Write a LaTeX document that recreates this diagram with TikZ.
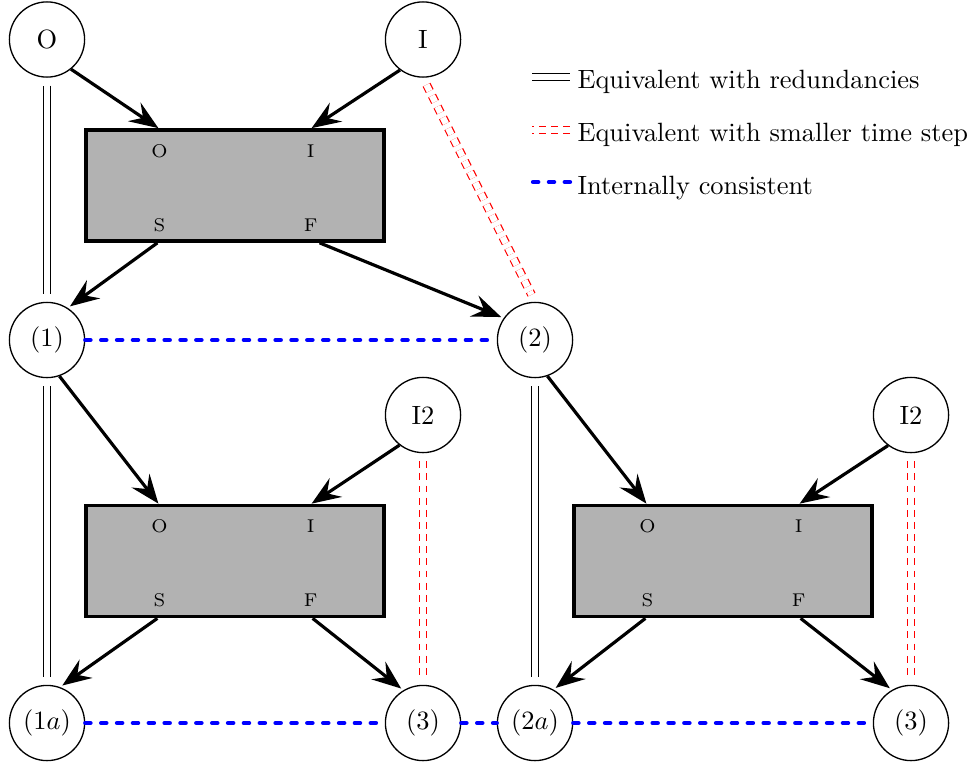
\documentclass[tikz,border=0pt]{standalone}
\usetikzlibrary{arrows.meta,calc}
\begin{document}
\begin{tikzpicture}[x=0.3784pt,y=-0.3784pt,
 circ/.style={circle,draw,line width=0.5pt,minimum size=1cm,inner sep=0pt},
 box/.style={rectangle,draw,line width=1.3pt,fill=black!30,minimum width=3.96cm,minimum height=1.48cm},
 port/.style={font=\scriptsize,inner sep=0pt},
 arr/.style={line width=1.2pt,-{Stealth[length=11pt,width=8.5pt,inset=4pt]}},
 tocirc/.style={shorten >=1pt},
 dbl/.style={double,double distance=2.5pt,line width=0.4pt},
 rdbl/.style={draw=red,double=white,double distance=2.4pt,line width=0.45pt,dash pattern=on 2.6pt off 2pt},
 blu/.style={draw=blue,line width=1.6pt,dash pattern=on 2pt off 4pt,line cap=round},
 gap/.style={shorten >=3pt,shorten <=3pt},
 leg/.style={anchor=base west,inner sep=0pt}]
\useasboundingbox (0,0) rectangle (972,767);

% circles
\node[circ] (O) at (47,39.5) {O};
\node[circ] (I) at (423,39.5) {I};
\node[circ] (n1) at (47,340) {$(1)$};
\node[circ] (n2) at (535,340) {$(2)$};
\node[circ] (i2a) at (423,415) {I2};
\node[circ] (i2b) at (911,415) {I2};
\node[circ] (n1a) at (47,723) {$(1a)$};
\node[circ] (n3a) at (423,723) {$(3)$};
\node[circ] (n2a) at (535,723) {$(2a)$};
\node[circ] (n3b) at (911,723) {$(3)$};

% boxes
\node[box] (r1) at (235,185.5) {};
\node[box] (r2) at (235,561) {};
\node[box] (r3) at (723,561) {};

\foreach \r in {r1,r2,r3}{
  \node[port] at ($(\r.north west)+(75,23)$) {O};
  \node[port] at ($(\r.north east)+(-75,23)$) {I};
  \node[port] at ($(\r.south west)+(75,-18)$) {S};
  \node[port] at ($(\r.south east)+(-75,-18)$) {F};
  \coordinate (\r o) at ($(\r.north west)+(74,0)$);
  \coordinate (\r i) at ($(\r.north east)+(-74,0)$);
  \coordinate (\r s) at ($(\r.south west)+(73,0)$);
  \coordinate (\r f) at ($(\r.south east)+(-73,0)$);
}
\coordinate (r1f2) at ($(r1.south east)+(-66,0)$);

% arrows
\draw[arr] (O.-51) -- (r1o);
\draw[arr] (I.-127) -- (r1i);
\draw[arr,tocirc] (r1s) -- (n1.57);
\draw[arr,tocirc] (r1f2) -- (n2.145);

\draw[arr] (n1.-71) -- (r2o);
\draw[arr] (i2a.-128) -- (r2i);
\draw[arr,tocirc] (r2s) -- (n1a.70);
\draw[arr,tocirc] (r2f) -- (n3a.121);

\draw[arr] (n2.-71) -- (r3o);
\draw[arr] (i2b.-127) -- (r3i);
\draw[arr,tocirc] (r3s) -- (n2a.61);
\draw[arr,tocirc] (r3f) -- (n3b.120);

% equivalences
\draw[dbl,gap] (O.south) -- (n1.north);
\draw[dbl,gap] (n1.south) -- (n1a.north);
\draw[dbl,gap] (n2.south) -- (n2a.north);
\draw[rdbl,gap] (I.south) -- (n2.north);
\draw[rdbl,gap] (i2a.south) -- (n3a.north);
\draw[rdbl,gap] (i2b.south) -- (n3b.north);

% consistency
\draw[blu] (n1.east) -- (n2.west);
\draw[blu] (n1a.east) -- (n3a.west);
\draw[blu] (n3a.east) -- (n2a.west);
\draw[blu] (n2a.east) -- (n3b.west);

% legend
\coordinate (la1) at (532,77);  \coordinate (lb1) at (570,77);
\coordinate (la2) at (532,130); \coordinate (lb2) at (570,130);
\coordinate (la3) at (533,182); \coordinate (lb3) at (570,182);
\draw[dbl] (la1) -- (lb1);
\draw[rdbl] (lb2) -- (la2);
\draw[blu] (la3) -- (lb3);
\node[leg] (t1) at (577,89) {Equivalent with redundancies};
\node[leg] (t2) at (577,141.5) {Equivalent with smaller time step};
\node[leg] (t3) at (577,194) {Internally consistent};
\end{tikzpicture}
\end{document}
